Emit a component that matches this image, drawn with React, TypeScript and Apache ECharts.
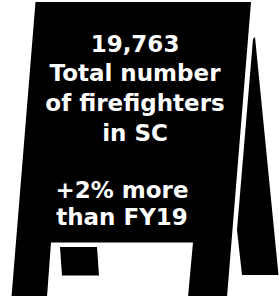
import React, { useEffect, useRef } from "react";
import * as echarts from "echarts";

// Text content of the infographic
const totalValue = "19,763";
const totalLines = ["Total number", "of firefighters", "in SC"];
const changeLines = ["+2% more", "than FY19"];

const W = 279;
const H = 296;

export default function App() {
  const ref = useRef<HTMLDivElement>(null);
  useEffect(() => {
    if (!ref.current) return;
    const chart = echarts.init(ref.current, null, { renderer: "svg", width: W, height: H });
    const font = { fontFamily: "DejaVu Sans", fontWeight: "bold" as const, fontSize: 23, fill: "#ffffff" };
    const topLines = [totalValue, ...totalLines];
    const texts: any[] = [];
    topLines.forEach((t, i) => {
      texts.push({
        type: "text",
        x: 135,
        y: 52 + i * 29.7 - 8.5,
        style: { ...font, text: t, textAlign: "center", textVerticalAlign: "middle" },
      });
    });
    changeLines.forEach((t, i) => {
      texts.push({
        type: "text",
        x: 122,
        y: 198 + i * 27 - 8.5,
        style: { ...font, text: t, textAlign: "center", textVerticalAlign: "middle" },
      });
    });
    chart.setOption({
      animation: false,
      backgroundColor: "#ffffff",
      graphic: [
        {
          type: "polygon",
          shape: {
            points: [
              [253, 39],
              [255, 37],
              [278.5, 275],
              [242, 275],
              [237, 230],
            ],
          },
          style: { fill: "#000000" },
        },
        {
          type: "polygon",
          shape: {
            points: [
              [35.5, 2],
              [251, 2],
              [227, 297],
              [188, 297],
              [193, 242.5],
              [51, 242.5],
              [47, 297],
              [11.5, 297],
            ],
          },
          style: { fill: "#000000" },
        },
        {
          type: "polygon",
          shape: {
            points: [
              [60, 247],
              [97, 247],
              [99, 275.5],
              [62, 275.5],
            ],
          },
          style: { fill: "#000000" },
        },
        ...texts,
      ],
    });
    return () => chart.dispose();
  }, []);
  return (
    <div
      ref={ref}
      style={{ position: "fixed", left: 0, top: 0, width: W, height: H }}
    />
  );
}
